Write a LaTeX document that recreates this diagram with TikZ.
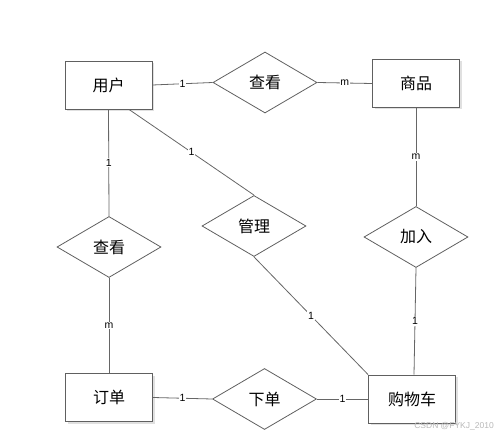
\documentclass[tikz,border=0pt]{standalone}
\usepackage{fontspec}
\setmainfont{Liberation Sans}
\newfontfamily\cjk{Noto Sans CJK SC}
\usetikzlibrary{shapes.geometric,shadows}
\definecolor{edgegray}{HTML}{606060}
\definecolor{linegray}{HTML}{666666}
\tikzset{
  entity/.style={draw=edgegray, line width=0.9pt, fill=white, minimum width=87pt, minimum height=48pt, inner sep=0pt,
    font=\cjk\fontsize{16}{16}\selectfont,
    drop shadow={shadow xshift=2pt, shadow yshift=-2pt, fill=black!12, opacity=1}},
  relation/.style={diamond, draw=edgegray, line width=0.8pt, fill=white, minimum width=104pt, minimum height=61pt, inner sep=0pt,
    font=\cjk\fontsize{16}{16}\selectfont},
  conn/.style={draw=linegray, line width=0.8pt},
  card/.style={fill=white, inner sep=0.8pt, font=\fontsize{10.5}{10.5}\selectfont, text=black}
}
\begin{document}
\begin{tikzpicture}[x=1pt,y=-1pt]
\useasboundingbox (0,0) rectangle (495,438);
% entities
\node[entity] (user) at (108.5,85) {用户};
\node[entity] (goods) at (416,83.5) {商品};
\node[entity] (order) at (109,397.5) {订单};
\node[entity] (cart) at (412,399) {购物车};
% relations
\node[relation] (view1) at (265,82.5) {查看};
\node[relation] (view2) at (109,247) {查看};
\node[relation] (manage) at (254,226) {管理};
\node[relation] (add) at (416,237) {加入};
\node[relation] (place) at (264.5,399) {下单};
% connectors
\draw[conn] (user.east) -- node[card]{1} (view1.west);
\draw[conn] (view1.east) -- node[card]{m} (goods.west);
\draw[conn] (user.south) -- node[card]{1} (view2.north);
\draw[conn] (view2.south) -- node[card]{m} (order.north);
\draw[conn] (order.east) -- node[card]{1} (place.west);
\draw[conn] (place.east) -- node[card]{1} (cart.west);
\draw[conn] ([xshift=20.5pt]user.south) -- node[card]{1} (manage.north);
\draw[conn] (manage.south) -- node[card]{1} (cart.north west);
\draw[conn] (goods.south) -- node[card]{m} (add.north);
\draw[conn] (add.south) -- node[card]{1} ([xshift=2pt]cart.north);
% watermark
\node[anchor=south east, inner sep=0pt, text=black!28, font=\fontsize{8.5}{8.5}\selectfont] (wm) at (494,430) {CSDN @FYKJ\_2010};
\end{tikzpicture}
\end{document}
